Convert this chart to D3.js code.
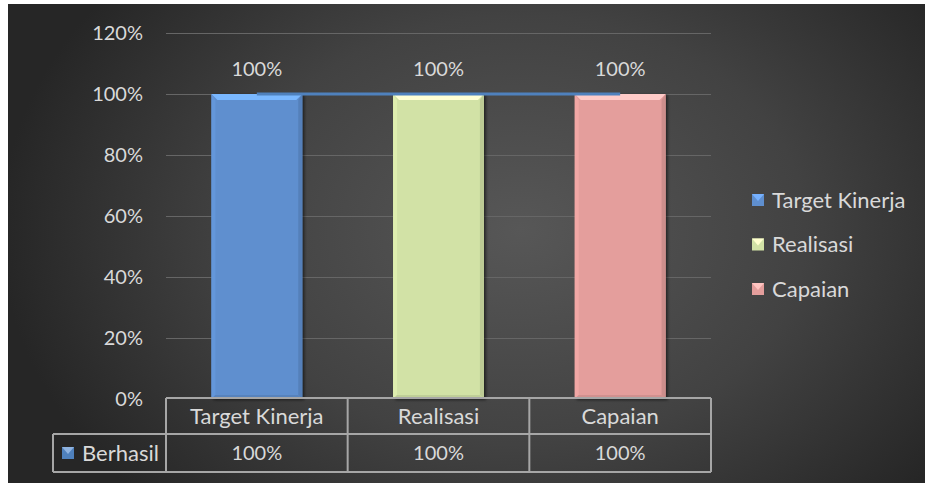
<!DOCTYPE html>
<html>
<head>
<meta charset="utf-8">
<script src="https://cdn.jsdelivr.net/npm/d3@7"></script>
<style>
  html, body { margin: 0; padding: 0; background: #ffffff; }
  svg { display: block; }
  text { font-family: Lato, "Open Sans", sans-serif; fill: #d9d9d9; }
</style>
</head>
<body>
<svg id="chart" width="925" height="483"></svg>
<script>
// Kategori dan nilai
const categories = ["Target Kinerja", "Realisasi", "Capaian"];
const barValues = [1.0, 1.0, 1.0];
const lineName = "Berhasil";
const lineValues = [1.0, 1.0, 1.0];
const yTicks = [0, 0.2, 0.4, 0.6, 0.8, 1.0, 1.2];
const barColors = ["#5f8fcf", "#d2e2a6", "#e49e9c"];

const svg = d3.select("#chart");
const W = 925, H = 483;
const fmt = d3.format(".0%");
const numSize = 20, wordSize = 22;

// Background with radial gradient
const defs = svg.append("defs");
const rg = defs.append("radialGradient").attr("id", "bg")
  .attr("gradientUnits", "userSpaceOnUse")
  .attr("cx", 520).attr("cy", 230).attr("r", 520)
  .attr("gradientTransform", "translate(520,230) scale(1,0.75) translate(-520,-230)");
rg.append("stop").attr("offset", "0").attr("stop-color", "#575757");
rg.append("stop").attr("offset", "0.55").attr("stop-color", "#424242");
rg.append("stop").attr("offset", "1").attr("stop-color", "#262626");

const shadow = defs.append("filter").attr("id", "shadow")
  .attr("x", "-20%").attr("y", "-10%").attr("width", "140%").attr("height", "120%");
shadow.append("feDropShadow").attr("dx", 2).attr("dy", 1).attr("stdDeviation", 1.5)
  .attr("flood-color", "#000").attr("flood-opacity", 0.55);

svg.append("rect").attr("x", 8).attr("y", 4).attr("width", W - 8).attr("height", H - 4)
  .attr("fill", "url(#bg)");

// Scales
const x = d3.scaleBand().domain(categories).range([166, 711]).paddingInner(0.5).paddingOuter(0.25);
const y = d3.scaleLinear().domain([0, 1.2]).range([399, 33]);

// Gridlines and y-axis labels
const yAxis = d3.axisLeft(y).tickValues(yTicks).tickFormat(fmt).tickSize(0).tickPadding(23);
const yg = svg.append("g").attr("transform", "translate(166,0)").call(yAxis);
yg.select(".domain").remove();
yg.selectAll("text").attr("font-size", numSize).attr("fill", "#d9d9d9")
  .style("font-family", "Lato, 'Open Sans', sans-serif");

svg.append("g").selectAll("line").data(yTicks.filter(d => d > 0)).join("line")
  .attr("x1", 166).attr("x2", 711)
  .attr("y1", d => Math.round(y(d)) + 0.5).attr("y2", d => Math.round(y(d)) + 0.5)
  .attr("stroke", "#666666").attr("stroke-width", 1);

// Bevelled bars
function bevelBar(g, x0, y0, w, h, color) {
  const b = 6, s = 4;
  const c = d3.color(color);
  g.append("rect").attr("x", x0).attr("y", y0).attr("width", w).attr("height", h)
    .attr("fill", color).attr("filter", "url(#shadow)");
  // top edge
  g.append("polygon").attr("points", [[x0, y0], [x0 + w, y0], [x0 + w - b, y0 + b], [x0 + b, y0 + b]].join(" "))
    .attr("fill", c.brighter(0.7));
  // left edge
  g.append("polygon").attr("points", [[x0, y0], [x0 + s, y0 + b], [x0 + s, y0 + h - s], [x0, y0 + h]].join(" "))
    .attr("fill", c.brighter(0.15));
  // right edge
  g.append("polygon").attr("points", [[x0 + w, y0], [x0 + w - s, y0 + b], [x0 + w - s, y0 + h - s], [x0 + w, y0 + h]].join(" "))
    .attr("fill", c.darker(0.3));
  // bottom edge
  g.append("polygon").attr("points", [[x0, y0 + h], [x0 + s, y0 + h - s], [x0 + w - s, y0 + h - s], [x0 + w, y0 + h]].join(" "))
    .attr("fill", c.darker(0.25));
}

const bars = svg.append("g");
categories.forEach((cat, i) => {
  const g = bars.append("g");
  bevelBar(g, x(cat), y(barValues[i]), x.bandwidth(), y(0) - y(barValues[i]), barColors[i]);
});

// Data labels above bars
svg.append("g").selectAll("text").data(categories).join("text")
  .attr("x", d => x(d) + x.bandwidth() / 2)
  .attr("y", (d, i) => y(barValues[i]) - 18)
  .attr("text-anchor", "middle").attr("font-size", numSize)
  .text((d, i) => fmt(barValues[i]));

// Line series
const line = d3.line().x(d => x(d.c) + x.bandwidth() / 2).y(d => y(d.v));
svg.append("path").datum(categories.map((c, i) => ({ c, v: lineValues[i] })))
  .attr("d", line).attr("fill", "none").attr("stroke", "#4f81bd").attr("stroke-width", 3);

// Legend
const legendG = svg.append("g");
categories.forEach((cat, i) => {
  const ly = 200 + i * 44.5;
  legendG.append("rect").attr("x", 752).attr("y", ly - 6).attr("width", 12).attr("height", 12)
    .attr("fill", barColors[i]);
  legendG.append("polygon").attr("points", [[752, ly - 6], [764, ly - 6], [758, ly + 1]].join(" "))
    .attr("fill", d3.color(barColors[i]).brighter(0.6));
  legendG.append("text").attr("x", 772).attr("y", ly).attr("dy", "0.35em")
    .attr("font-size", wordSize).text(cat);
});

// Data table
const table = svg.append("g");
const rowTop = 398, rowMid = 434, rowBot = 472, tableLeft = 53;
const cellEdges = [166].concat(categories.map(c => x(c) + x.bandwidth() + x.step() * 0.25));
const stroke = "#a6a6a6";
table.append("path").attr("fill", "none").attr("stroke", stroke).attr("stroke-width", 2)
  .attr("d", [
    `M${cellEdges[0]},${rowTop}H${cellEdges[3]}`,
    `M${tableLeft},${rowMid}H${cellEdges[3]}`,
    `M${tableLeft},${rowBot}H${cellEdges[3]}`,
    `M${tableLeft},${rowMid}V${rowBot}`
  ].concat(cellEdges.map(e => `M${e},${rowTop}V${rowBot}`)).join(""));

table.selectAll("text.hdr").data(categories).join("text").attr("class", "hdr")
  .attr("x", d => x(d) + x.bandwidth() / 2).attr("y", (rowTop + rowMid) / 2).attr("dy", "0.35em")
  .attr("text-anchor", "middle").attr("font-size", wordSize).text(d => d);
table.selectAll("text.val").data(categories).join("text").attr("class", "val")
  .attr("x", d => x(d) + x.bandwidth() / 2).attr("y", (rowMid + rowBot) / 2).attr("dy", "0.35em")
  .attr("text-anchor", "middle").attr("font-size", numSize).text((d, i) => fmt(lineValues[i]));

// Row key
table.append("rect").attr("x", 62).attr("y", 447).attr("width", 12).attr("height", 12).attr("fill", "#4f81bd");
table.append("polygon").attr("points", "62,447 74,447 68,454").attr("fill", "#8fb3e0");
table.append("text").attr("x", 82).attr("y", (rowMid + rowBot) / 2).attr("dy", "0.35em")
  .attr("font-size", wordSize).text(lineName);
</script>
</body>
</html>
